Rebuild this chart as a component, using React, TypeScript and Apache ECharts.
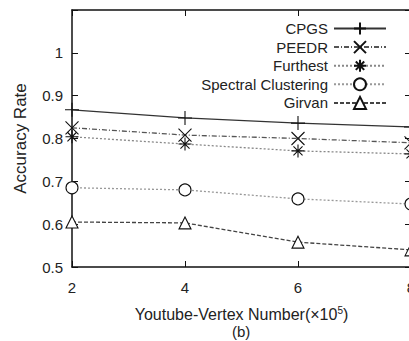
import React, { useEffect, useRef } from "react";
import * as echarts from "echarts";

const xValues = [2, 4, 6, 8];
const seriesNames = ["CPGS", "PEEDR", "Furthest", "Spectral Clustering", "Girvan"];
const cpgs = [0.867, 0.848, 0.836, 0.827];
const peedr = [0.825, 0.808, 0.8, 0.79];
const furthest = [0.804, 0.787, 0.771, 0.764];
const spectral = [0.685, 0.68, 0.659, 0.647];
const girvan = [0.605, 0.603, 0.558, 0.54];
const xTitle = "Youtube-Vertex Number(×10{sup|5})";
const yTitle = "Accuracy Rate";
const caption = "(b)";

const FONT = "'Liberation Sans', Arial, sans-serif";

const PLUS = "path://M5,0 L5,10 M0,5 L10,5";
const CROSS = "path://M0,0 L10,10 M10,0 L0,10";
const STAR = "path://M5,0 L5,10 M0,5 L10,5 M1.5,1.5 L8.5,8.5 M8.5,1.5 L1.5,8.5";

export default function App() {
  const ref = useRef<HTMLDivElement>(null);
  useEffect(() => {
    if (!ref.current) return;
    const chart = echarts.init(ref.current, undefined, { renderer: "svg" });
    const pair = (arr: number[]) => xValues.map((x, i) => [x, arr[i]]);
    const mk = (
      name: string,
      arr: number[],
      symbol: string,
      size: number,
      lineColor: string,
      lineType: any,
      fill: string
    ) => ({
      name,
      type: "line",
      data: pair(arr),
      symbol,
      symbolSize: size,
      showAllSymbol: true,
      lineStyle: { color: lineColor, width: 1.3, type: lineType },
      itemStyle: { color: fill, borderColor: "#111", borderWidth: 1.1 },
      emphasis: { disabled: true },
    });
    chart.setOption({
      animation: false,
      backgroundColor: "#fff",
      textStyle: { fontFamily: FONT },
      grid: { left: 72, right: -2, top: 10, bottom: 74, show: false, outerBoundsMode: "none", containLabel: false },
      legend: {
        orient: "vertical",
        align: "right",
        right: 17,
        top: 16,
        itemWidth: 52,
        itemHeight: 15,
        itemGap: 3.6,
        textStyle: { fontSize: 15, color: "#222", fontFamily: FONT, padding: [0, 1, 0, 0] },
        data: seriesNames,
      },
      xAxis: [
        {
          type: "value",
          min: 2,
          max: 8,
          interval: 2,
          position: "bottom",
          axisLine: { lineStyle: { color: "#111", width: 1.5 } },
          axisTick: { inside: true, length: 6, lineStyle: { color: "#111" } },
          axisLabel: { fontSize: 15, color: "#222", margin: 13 },
          splitLine: { show: false },
          name: xTitle,
          nameLocation: "middle",
          nameGap: 38,
          nameTextStyle: {
            fontSize: 16,
            color: "#222",
            rich: { sup: { fontSize: 10, verticalAlign: "top", padding: [0, 0, 8, 0], color: "#222" } },
          },
        },
        {
          type: "value",
          min: 2,
          max: 8,
          interval: 2,
          position: "top",
          axisLine: { lineStyle: { color: "#111", width: 1.5 } },
          axisTick: { inside: true, length: 6, lineStyle: { color: "#111" } },
          axisLabel: { show: false },
          splitLine: { show: false },
        },
      ],
      yAxis: [
        {
          type: "value",
          min: 0.5,
          max: 1.1,
          interval: 0.1,
          position: "left",
          axisLine: { show: true, lineStyle: { color: "#111", width: 1.5 } },
          axisTick: { show: true, inside: true, length: 6, lineStyle: { color: "#111" } },
          axisLabel: {
            fontSize: 15,
            color: "#222",
            margin: 9,
            formatter: (v: number) => (v > 1.05 ? "" : Math.abs(v - 1) < 1e-6 ? "1" : v.toFixed(1)),
          },
          splitLine: { show: false },
          name: yTitle,
          nameLocation: "middle",
          nameGap: 43,
          nameRotate: 90,
          nameTextStyle: { fontSize: 17, color: "#222" },
        },
        {
          type: "value",
          min: 0.5,
          max: 1.1,
          interval: 0.1,
          position: "right",
          axisLine: { show: true, lineStyle: { color: "#111", width: 1.5 } },
          axisTick: { show: true, inside: true, length: 6, lineStyle: { color: "#111" } },
          axisLabel: { show: false },
          splitLine: { show: false },
        },
      ],
      graphic: [
        {
          type: "text",
          left: 232,
          top: 324,
          style: { text: caption, fontSize: 15, fill: "#222", fontFamily: FONT },
        },
      ],
      series: [
        mk("CPGS", cpgs, PLUS, 14, "#333", "solid", "#111"),
        mk("PEEDR", peedr, CROSS, 13, "#555", [5, 2, 1, 2], "#111"),
        mk("Furthest", furthest, STAR, 13, "#888", [2, 2], "#111"),
        mk("Spectral Clustering", spectral, "circle", 12, "#999", [2, 2], "#fff"),
        mk("Girvan", girvan, "triangle", 12, "#444", [4, 2], "#fff"),
      ],
    });
    return () => chart.dispose();
  }, []);
  return (
    <div
      ref={ref}
      style={{ position: "fixed", left: 0, top: 0, width: 409, height: 341, background: "#fff" }}
    />
  );
}
